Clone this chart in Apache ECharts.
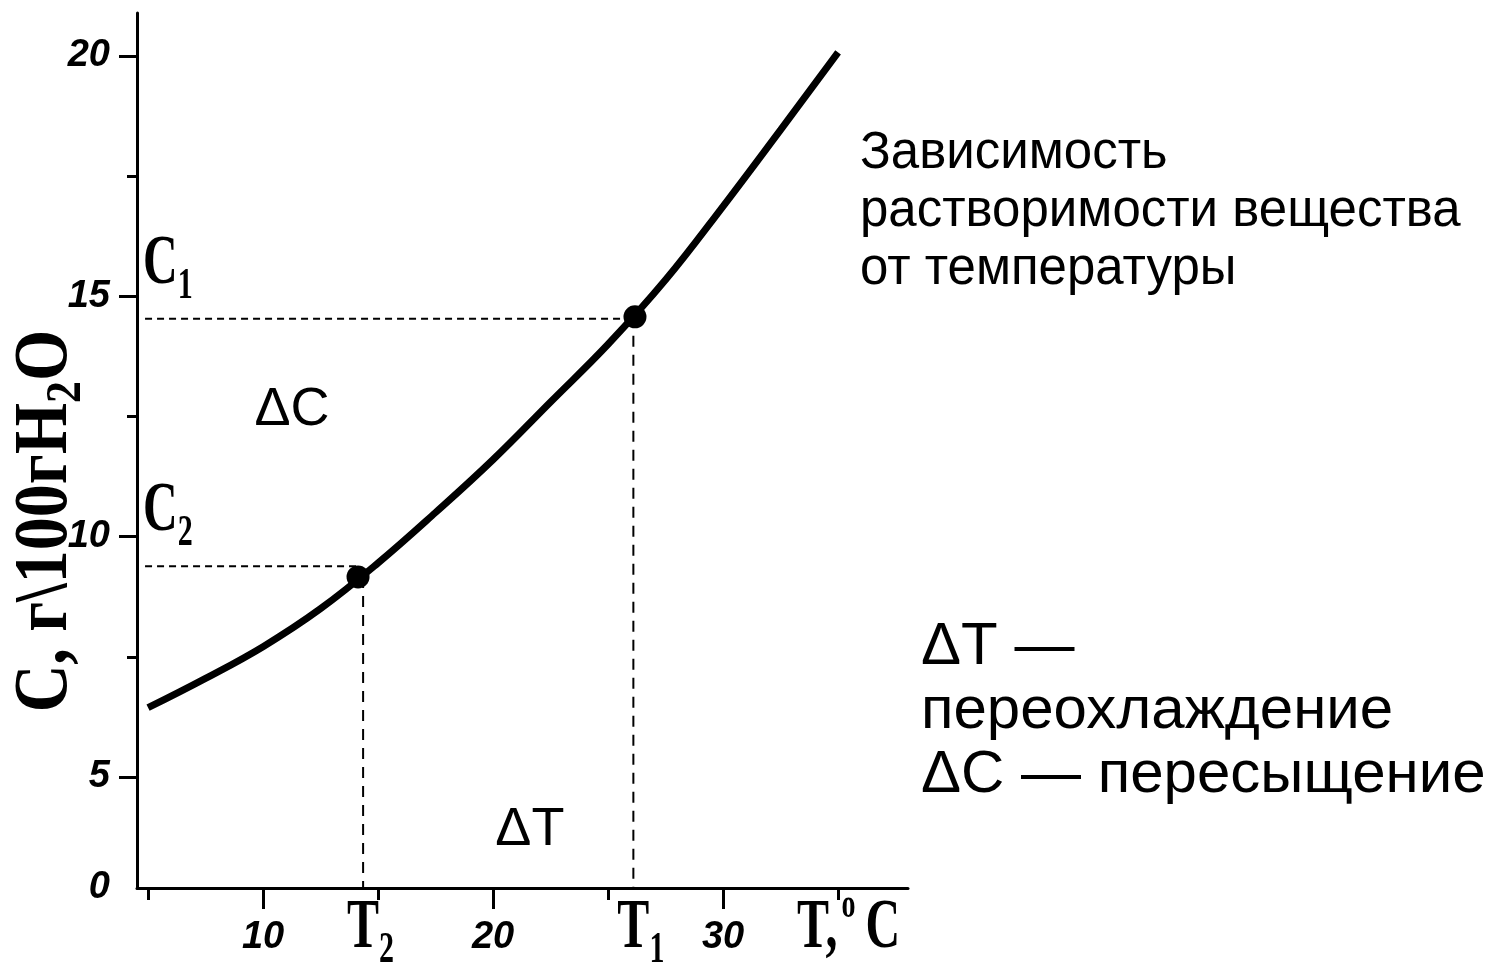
<!DOCTYPE html>
<html lang="ru">
<head>
  <meta charset="UTF-8">
  <title>Растворимость</title>
  <script src="https://cdn.jsdelivr.net/npm/echarts@6/dist/echarts.min.js"></script>
  <style>
    html, body { margin: 0; padding: 0; background: #fff; }
    #main { width: 1495px; height: 969px; }
  </style>
</head>
<body>
  <div id="main"></div>
  <script>
    // кривая растворимости
    var temps = [5, 7.5, 10, 12.5, 15, 17.5, 20, 22.5, 25, 27.5, 30, 32.5, 35]
    var solubility = [6.44, 7.05, 7.71, 8.5, 9.45, 10.5, 11.6, 12.8, 14.0, 15.34, 16.87, 18.46, 20.07]

    // точки T2 и T1 на кривой
    var pointT = [14.13, 26.17]
    var pointC = [9.16, 14.57]
    // пунктирные линии
    var guideT = [14.35, 26.1]
    var guideC = [9.38, 14.53]
    var guideStart = 4.87
    var tNames = ['2', '1']

    // подписи ΔC, ΔT
    var deltaNames = ['ΔC', 'ΔT']
    var deltaX = [11.26, 21.6]
    var deltaY = [12.64, 3.9]

    // оси (ось C в оригинале разорвана: низ оси подписан 0)
    var xMin = 4.52, xMax = 38.04
    var yMin = 2.69, yMax = 20.89
    var xMajor = [10, 20, 30]
    var xMinor = [5, 15, 25, 35]
    var yMajor = [5, 10, 15, 20]
    var yMinor = [7.5, 12.5, 17.5]
    var yLabels = [yMin, 5, 10, 15, 20]
    var unitAt = 35.46

    var sans = "'Liberation Sans', Arial, sans-serif"
    var narrow = "'Liberation Sans Narrow', 'Liberation Sans', Arial, sans-serif"
    var serif = "'Liberation Serif', 'Times New Roman', serif"

    var curve = []
    for (var i = 0; i < temps.length; i++) {
      curve.push([temps[i], solubility[i]])
    }

    var series = [{
      type: 'line',
      data: curve,
      smooth: 0.4,
      showSymbol: false,
      lineStyle: { color: '#000', width: 7 },
      z: 3,
      silent: true
    }]

    for (var i = 0; i < pointT.length; i++) {
      series.push({
        type: 'line',
        data: [[guideStart, guideC[i]], [pointT[i], guideC[i]]],
        showSymbol: false,
        lineStyle: { color: '#000', width: 2, type: [7, 5] },
        silent: true
      })
      series.push({
        type: 'line',
        data: [[guideT[i], pointC[i]], [guideT[i], yMin]],
        showSymbol: false,
        lineStyle: { color: '#000', width: 2, type: [11, 8] },
        silent: true
      })
    }

    var pts = []
    for (var i = 0; i < pointT.length; i++) pts.push([pointT[i], pointC[i]])
    series.push({
      type: 'scatter',
      data: pts,
      symbolSize: 23,
      itemStyle: { color: '#000', opacity: 1 },
      z: 4,
      silent: true
    })

    var deltas = []
    for (var i = 0; i < deltaNames.length; i++) {
      deltas.push({ name: deltaNames[i], value: [deltaX[i], deltaY[i]] })
    }
    series.push({
      type: 'scatter',
      data: deltas,
      symbolSize: 0,
      silent: true,
      itemStyle: { color: '#000', opacity: 1 },
      label: {
        show: true, position: 'inside', formatter: '{b}',
        fontSize: 54, fontFamily: sans, color: '#000'
      }
    })

    var tickLabel = {
      fontSize: 38, fontStyle: 'italic', fontWeight: 'bold', fontFamily: narrow, color: '#000'
    }

    var chart = echarts.init(document.getElementById('main'))
    chart.setOption({
      animation: false,
      backgroundColor: '#fff',
      title: [{
        text: 'Зависимость\nрастворимости вещества\nот температуры',
        left: 860, top: 125, padding: 0,
        textStyle: { fontSize: 51, lineHeight: 58, fontWeight: 'normal', fontFamily: sans, color: '#000' }
      }, {
        text: 'ΔT —\nпереохлаждение\nΔC — пересыщение',
        left: 921, top: 615, padding: 0,
        textStyle: { fontSize: 60, lineHeight: 64, fontWeight: 'normal', fontFamily: sans, color: '#000' }
      }],
      grid: { left: 137, right: 587, top: 13, bottom: 81, outerBoundsMode: 'none' },
      xAxis: [{
        type: 'value', min: xMin, max: xMax, position: 'bottom',
        axisLine: { onZero: false, lineStyle: { color: '#000', width: 3 } },
        axisTick: { show: true, customValues: xMajor, length: 21, lineStyle: { color: '#000', width: 3 } },
        axisLabel: Object.assign({ customValues: xMajor, margin: 31 }, tickLabel),
        splitLine: { show: false }
      }, {
        type: 'value', min: xMin, max: xMax, position: 'bottom',
        axisLine: { show: false, onZero: false },
        axisTick: { show: true, customValues: xMinor, length: 12, lineStyle: { color: '#000', width: 3 } },
        axisLabel: { show: false },
        splitLine: { show: false }
      }],
      yAxis: [{
        type: 'value', min: yMin, max: yMax, position: 'left',
        axisLine: { show: true, onZero: false, lineStyle: { color: '#000', width: 3 } },
        axisTick: { show: true, customValues: yMajor, length: 18, lineStyle: { color: '#000', width: 3 } },
        axisLabel: Object.assign({
          customValues: yLabels, margin: 27,
          formatter: function (v) { return v < 4 ? '0' : String(v) }
        }, tickLabel),
        splitLine: { show: false }
      }, {
        type: 'value', min: yMin, max: yMax, position: 'left',
        axisLine: { show: false, onZero: false },
        axisTick: { show: true, customValues: yMinor, length: 10, lineStyle: { color: '#000', width: 3 } },
        axisLabel: { show: false },
        splitLine: { show: false }
      }],
      series: series
    })

    // подписи T1, T2, C1, C2 и T,°C — жирный Times, вытянут по вертикали
    var rich = {
      b: { fontSize: 48, fontWeight: 'bold', fontFamily: serif, lineHeight: 60, color: '#000' },
      s: { fontSize: 30, fontWeight: 'bold', fontFamily: serif, lineHeight: 20, verticalAlign: 'bottom', color: '#000' },
      o: { fontSize: 28, fontWeight: 'bold', fontFamily: serif, lineHeight: 36, verticalAlign: 'top', color: '#000', padding: [0, 10, 0, 4] }
    }
    var axisBottom = chart.convertToPixel({ yAxisIndex: 0 }, yMin)
    var axisLeft = chart.convertToPixel({ xAxisIndex: 0 }, xMin)
    var graphic = []
    for (var i = 0; i < guideT.length; i++) {
      graphic.push({
        type: 'text', silent: true,
        x: chart.convertToPixel({ xAxisIndex: 0 }, guideT[i]) - 16,
        y: axisBottom - 2, scaleY: 1.45,
        style: { text: '{b|T}{s|' + tNames[i] + '}', rich: rich, align: 'left', verticalAlign: 'top' }
      })
      graphic.push({
        type: 'text', silent: true,
        x: axisLeft + 6,
        y: chart.convertToPixel({ yAxisIndex: 0 }, guideC[i]) - 54, scaleY: 1.45,
        style: { text: '{b|C}{s|' + tNames[i] + '}', rich: rich, align: 'left', verticalAlign: 'middle' }
      })
    }
    graphic.push({
      type: 'text', silent: true,
      x: chart.convertToPixel({ xAxisIndex: 0 }, unitAt),
      y: axisBottom - 2, scaleY: 1.45,
      style: { text: '{b|T,}{o|o}{b|C}', rich: rich, align: 'center', verticalAlign: 'top' }
    })
    graphic.push({
      type: 'text', silent: true,
      x: 46, y: 521, rotation: Math.PI / 2, scaleY: 1.15,
      style: {
        text: '{b|C, г\\100гH}{s|2}{b|O}', align: 'center', verticalAlign: 'middle',
        rich: {
          b: { fontSize: 66, fontWeight: 'bold', fontFamily: serif, lineHeight: 80, color: '#000' },
          s: { fontSize: 44, fontWeight: 'bold', fontFamily: serif, lineHeight: 44, verticalAlign: 'bottom', color: '#000' }
        }
      }
    })
    chart.setOption({ graphic: graphic })
  </script>
</body>
</html>
